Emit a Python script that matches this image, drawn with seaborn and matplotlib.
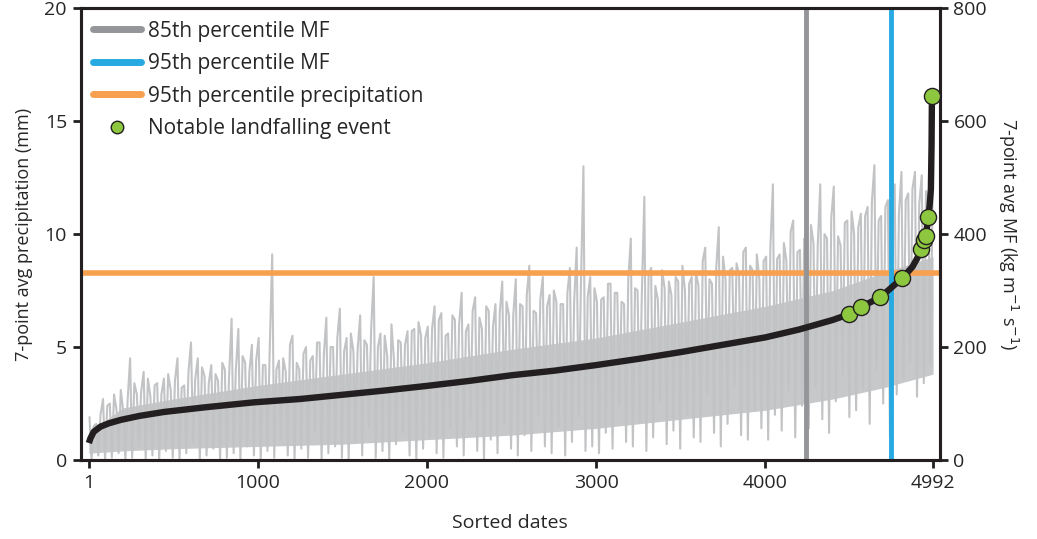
import numpy as np
import pandas as pd
import matplotlib
matplotlib.use("Agg")
import matplotlib.pyplot as plt
from matplotlib.lines import Line2D
import seaborn as sns

# sorted MF curve (date index, kg m-1 s-1)
mf_dates = [1, 10, 30, 70, 120, 190, 300, 445, 680, 975, 1250, 1485, 1750,
            1995, 2250, 2500, 2750, 3000, 3250, 3500, 3750, 4000, 4200,
            4400, 4494, 4567, 4680, 4810, 4870, 4922, 4948, 4962, 4972,
            4979, 4983, 4985]
mf_values = [30, 38, 50, 59, 65, 71, 78, 85, 93, 102, 108, 115, 123,
             131, 140, 150, 158, 168, 179, 191, 204, 217, 231,
             248, 258, 271, 288, 322, 342, 370, 395, 425, 452,
             480, 560, 640]

# notable landfalling events
event_dates = [4494, 4567, 4680, 4810, 4922, 4936, 4948, 4960, 4985]
event_mf = [258, 271, 288, 322, 373, 389, 397, 430, 645]

# precipitation per 40-date bin (mm): local peak, trough and secondary peak
precip_hi = [1.9, 1.6, 2.7, 2.5, 2.2, 2.1, 4.5, 2.9, 3.9, 2.8, 3.4, 3.6, 3.1,
             4.5, 3.3, 5.2, 4.5, 3.7, 4.2, 3.5, 4.0, 6.25, 5.8, 4.3, 5.1,
             5.4, 4.2, 9.1, 4.4, 3.9, 5.5, 4.0, 5.0, 4.6, 5.2, 6.3, 5.0, 6.7,
             5.4, 4.8, 6.4, 5.1, 8.1, 5.6, 4.6, 4.4, 5.2, 5.7, 5.8, 5.5,
             5.9, 6.8, 6.5, 5.6, 6.2, 7.4, 6.0, 7.2, 5.8, 6.6, 6.9, 7.9, 6.4,
             8.0, 6.8, 8.6, 6.5, 8.1, 7.3, 7.0, 6.9, 8.5, 9.4, 13.0, 8.1,
             7.0, 7.2, 7.8, 7.4, 6.9, 9.8, 7.5, 11.65, 8.5, 7.1, 7.6, 7.3, 7.9,
             7.5, 8.1, 7.7, 9.4, 7.8, 10.3, 8.0, 8.5, 8.2, 9.4, 8.4, 8.0,
             9.0, 12.2, 9.1, 8.8, 10.6, 9.3, 8.9, 9.6, 12.2, 9.8, 12.1, 9.5,
             10.6, 10.0, 10.9, 11.2, 13.05, 10.8, 11.5, 12.2, 12.75, 11.8,
             12.75, 12.6, 11.0]
precip_lo = [0.0, 0.2, 0.0, 0.1, 0.3, 0.0, 0.1, 0.6, 0.0, 0.2, 0.0, 0.4, 0.1,
             0.0, 0.3, 0.8, 0.0, 0.2, 0.5, 0.0, 0.1, 0.3, 0.0, 0.6, 0.2,
             0.0, 0.4, 0.1, 0.9, 0.2, 0.0, 0.5, 0.1, 1.3, 0.0, 0.3, 0.6, 0.1,
             0.0, 0.8, 0.2, 1.5, 0.1, 0.4, 0.0, 0.7, 1.2, 0.2, 0.0, 0.5,
             1.0, 0.3, 0.1, 1.4, 0.6, 0.2, 1.8, 0.4, 0.0, 0.9, 0.3, 1.6, 0.5,
             0.2, 1.1, 0.4, 2.0, 0.6, 0.3, 1.5, 0.2, 0.8, 1.9, 0.4, 0.6,
             0.3, 1.2, 0.5, 2.4, 0.8, 0.6, 1.7, 0.4, 1.0, 2.6, 0.7, 1.3, 0.5,
             2.0, 1.0, 0.8, 2.9, 1.2, 0.6, 1.6, 3.3, 1.1, 0.9, 2.2, 1.4,
             0.9, 2.0, 1.3, 3.0, 1.0, 2.4, 1.4, 3.2, 1.8, 1.2, 2.6, 3.8, 1.9,
             2.2, 3.1, 1.6, 4.0, 2.5, 1.0, 2.9, 3.6, 4.4, 2.8, 3.4, 4.2]
precip_mid = [1.5, 2.0, 2.4, 2.9, 3.1, 2.6, 3.4, 3.0, 3.6, 3.3, 2.9, 3.8, 3.5,
              3.2, 3.9, 3.6, 4.1, 3.4, 3.8, 4.3, 3.7, 4.0, 4.6, 3.9, 4.4,
              4.2, 4.8, 4.0, 4.5, 5.1, 4.3, 4.7, 4.4, 5.2, 4.6, 5.0, 5.4, 4.8,
              5.6, 4.9, 5.3, 5.8, 5.0, 5.5, 6.0, 5.3, 5.1, 5.7, 6.1, 5.4,
              5.8, 6.2, 5.5, 6.4, 6.0, 5.7, 6.6, 6.3, 6.8, 5.9, 6.5, 7.0, 6.4,
              6.9, 7.3, 6.6, 7.1, 6.8, 7.5, 6.9, 7.4, 7.0, 7.7, 7.2, 7.6,
              7.1, 7.8, 7.4, 7.0, 8.0, 7.6, 7.3, 8.2, 7.7, 8.4, 7.9, 8.1, 8.6,
              7.8, 8.3, 8.8, 8.0, 8.5, 9.0, 8.4, 8.7, 9.2, 8.6, 9.1, 8.8,
              9.4, 8.9, 9.6, 10.1, 9.2, 9.8, 10.4, 9.5, 10.0, 10.7, 9.9, 10.5,
              11.0, 10.3, 10.8, 11.4, 10.6, 11.2, 11.8, 10.9, 11.5, 12.0,
              11.3, 11.9, 12.2]

# dense core of the precipitation band
core_dates = [1, 200, 500, 1000, 1500, 2000, 2500, 3000, 3500, 4000, 4400, 4700, 4992]
core_lo = [0.3, 0.4, 0.5, 0.6, 0.7, 0.9, 1.1, 1.4, 1.8, 2.2, 2.7, 3.2, 3.8]
core_hi = [1.2, 2.3, 2.7, 3.3, 3.8, 4.3, 4.9, 5.4, 6.1, 6.8, 7.5, 8.3, 9.0]

mf_p85 = 4243
mf_p95 = 4742
precip_p95 = 8.27
n_dates = 4992

GREY = "#c7c8ca"
BLACK = "#231f20"

sns.set_style("ticks")
plt.rcParams["font.family"] = ["Open Sans", "DejaVu Sans"]

# build the zigzag precipitation trace
bin_start = np.arange(len(precip_hi)) * 40
zz = pd.DataFrame({
    "date": np.concatenate([bin_start + 5, bin_start + 17, bin_start + 30]),
    "precip": np.concatenate([precip_hi, precip_lo, precip_mid]),
}).sort_values("date")
mf = pd.DataFrame({"date": mf_dates, "mf": mf_values})
ev = pd.DataFrame({"date": event_dates, "mf": event_mf})

fig = plt.figure(figsize=(10.37, 5.39), dpi=100)
ax = fig.add_axes([0.078, 0.1466, 0.828, 0.8384])

ax.fill_between(core_dates, core_lo, core_hi, color=GREY, lw=0, zorder=1)
sns.lineplot(data=zz, x="date", y="precip", ax=ax, color="#c2c3c5", lw=1.5,
             estimator=None, zorder=2)
ax.axhline(precip_p95, color="#f7a04f", lw=4, zorder=3)
ax.axvline(mf_p85, color="#939598", lw=3.5, zorder=4)
ax.axvline(mf_p95, color="#27aae1", lw=3.5, zorder=4)

ax.set_xlim(-46, 5030)
ax.set_ylim(0, 20)
ax.set_xticks([1, 1000, 2000, 3000, 4000, n_dates])
ax.set_yticks([0, 5, 10, 15, 20])
ax.set_xlabel("Sorted dates", fontsize=14, labelpad=16)
ax.set_ylabel("7-point avg precipitation (mm)", fontsize=13, labelpad=8)

ax2 = ax.twinx()
sns.lineplot(data=mf, x="date", y="mf", ax=ax2, color=BLACK, lw=4.6,
             estimator=None, solid_capstyle="butt")
sns.scatterplot(data=ev, x="date", y="mf", ax=ax2, color="#8dc63f",
                edgecolor=BLACK, linewidth=1.0, s=135, zorder=5)
ax2.set_ylim(0, 800)
ax2.set_yticks([0, 200, 400, 600, 800])
ax2.set_xlim(-46, 5030)
ax2.set_ylabel("7-point avg MF (kg m$^{-1}$ s$^{-1}$)", fontsize=13,
               rotation=270, labelpad=24)

for a in (ax, ax2):
    for s in a.spines.values():
        s.set_linewidth(2.2)
        s.set_color(BLACK)
    a.tick_params(width=2, length=6, color=BLACK, labelsize=14, pad=4)

handles = [
    Line2D([], [], color="#939598", lw=5),
    Line2D([], [], color="#27aae1", lw=5),
    Line2D([], [], color="#f7a04f", lw=5),
    Line2D([], [], marker="o", ls="", markerfacecolor="#8dc63f",
           markeredgecolor=BLACK, markersize=9),
]
labels = ["85th percentile MF", "95th percentile MF",
          "95th percentile precipitation", "Notable landfalling event"]
ax2.legend(handles, labels, loc="upper left", frameon=False, fontsize=15,
           handlelength=2.3, handletextpad=0.3, labelspacing=0.55,
           borderaxespad=0.2, bbox_to_anchor=(0.0, 1.0))

fig.savefig("out.png", dpi=100)
